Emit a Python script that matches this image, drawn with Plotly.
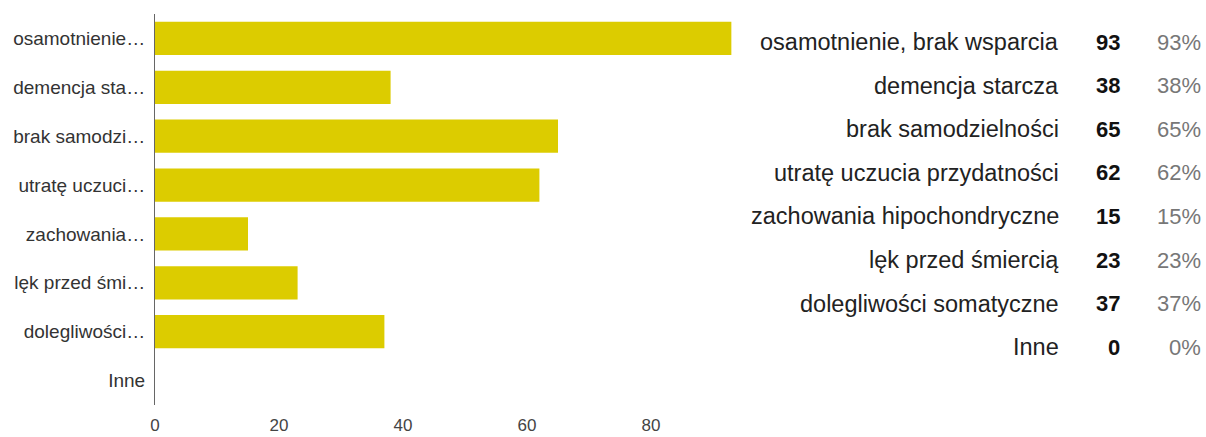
import plotly.graph_objects as go

W, H = 1206, 437

categories = [
    "osamotnienie, brak wsparcia",
    "demencja starcza",
    "brak samodzielności",
    "utratę uczucia przydatności",
    "zachowania hipochondryczne",
    "lęk przed śmiercią",
    "dolegliwości somatyczne",
    "Inne",
]
short_labels = [
    "osamotnienie…",
    "demencja sta…",
    "brak samodzi…",
    "utratę uczuci…",
    "zachowania…",
    "lęk przed śmi…",
    "dolegliwości…",
    "Inne",
]
counts = [93, 38, 65, 62, 15, 23, 37, 0]
percents = [93, 38, 65, 62, 15, 23, 37, 0]
x_ticks = [0, 20, 40, 60, 80]

BAR = "#DCCC00"
FONT = "Arial, Liberation Sans, sans-serif"

fig = go.Figure(
    go.Bar(
        x=counts,
        y=short_labels,
        orientation="h",
        marker=dict(color=BAR, line=dict(width=0)),
        width=0.68,
        hoverinfo="skip",
    )
)

# plot area in pixels: x 155..731.6, y 14..405
x0, x1 = 155, 155 + 93 * 6.2
y_top, y_bot = 14, 405

fig.update_xaxes(
    domain=[x0 / W, x1 / W],
    range=[0, 93],
    tickvals=x_ticks,
    showgrid=False,
    zeroline=False,
    showline=False,
    ticks="",
    tickfont=dict(family=FONT, size=17, color="#444444"),
    ticklabelstandoff=8,
    automargin=False,
)
fig.update_yaxes(
    domain=[1 - y_bot / H, 1 - y_top / H],
    categoryorder="array",
    categoryarray=short_labels[::-1],
    showgrid=False,
    zeroline=False,
    showline=True,
    linecolor="#666666",
    linewidth=1,
    ticks="",
    tickfont=dict(family=FONT, size=19, color="#333333"),
    ticklabelstandoff=5,
    automargin=False,
)

# summary table on the right: label, count, percent
annotations = []
row0, pitch = 42, 43.6
for i, (name, n, p) in enumerate(zip(categories, counts, percents)):
    yp = 1 - (row0 + i * pitch) / H
    annotations.append(dict(
        x=1061 / W, y=yp, xref="paper", yref="paper",
        text=name, showarrow=False, xanchor="right", yanchor="middle",
        font=dict(family=FONT, size=23.5, color="#222222"),
    ))
    annotations.append(dict(
        x=1122 / W, y=yp, xref="paper", yref="paper",
        text=f"<b>{n}</b>", showarrow=False, xanchor="right", yanchor="middle",
        font=dict(family=FONT, size=22, color="#111111"),
    ))
    annotations.append(dict(
        x=1203 / W, y=yp, xref="paper", yref="paper",
        text=f"{p}%", showarrow=False, xanchor="right", yanchor="middle",
        font=dict(family=FONT, size=22, color="#777777"),
    ))

fig.update_layout(
    width=W,
    height=H,
    margin=dict(l=0, r=0, t=0, b=0),
    paper_bgcolor="white",
    plot_bgcolor="white",
    showlegend=False,
    bargap=0.32,
    annotations=annotations,
)

fig.write_html("out.html")
